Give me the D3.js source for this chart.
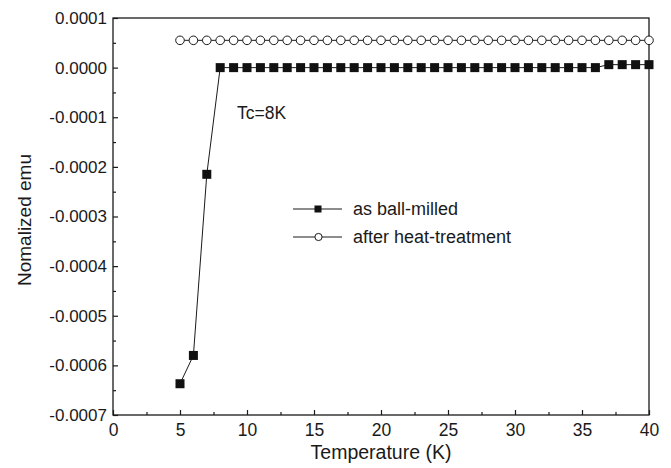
<!DOCTYPE html>
<html>
<head>
<meta charset="utf-8">
<script src="https://cdn.jsdelivr.net/npm/d3@7"></script>
<style>
  body { margin: 0; background: #fff; }
  svg { font-family: "Liberation Sans", Arial, sans-serif; }
</style>
</head>
<body>
<div id="chart"></div>
<script>
// data
var tempMilled = [5, 6, 7, 8, 9, 10, 11, 12, 13, 14, 15, 16, 17, 18, 19, 20, 21, 22, 23, 24,
    25, 26, 27, 28, 29, 30, 31, 32, 33, 34, 35, 36, 37, 38, 39, 40];
var emuMilled = [-0.000637, -0.00058, -0.000215, 0, 0, 0, 0, 0, 0, 0, 0, 0, 0, 0, 0, 0, 0, 0, 0, 0,
    0, 0, 0, 0, 0, 0, 0, 0, 0, 0, 0, 0, 0.000006, 0.000006, 0.000006, 0.000006];
var tempHeat = [5, 6, 7, 8, 9, 10, 11, 12, 13, 14, 15, 16, 17, 18, 19, 20, 21, 22, 23, 24,
    25, 26, 27, 28, 29, 30, 31, 32, 33, 34, 35, 36, 37, 38, 39, 40];
var emuHeat = [0.000055, 0.000055, 0.000055, 0.000055, 0.000055, 0.000055, 0.000055, 0.000055,
    0.000055, 0.000055, 0.000055, 0.000055, 0.000055, 0.000055, 0.000055, 0.000055, 0.000055,
    0.000055, 0.000055, 0.000055, 0.000055, 0.000055, 0.000055, 0.000055, 0.000055, 0.000055,
    0.000055, 0.000055, 0.000055, 0.000055, 0.000055, 0.000055, 0.000055, 0.000055, 0.000055, 0.000055];
var xTicks = [0, 5, 10, 15, 20, 25, 30, 35, 40];
var yTicks = [0.0001, 0, -0.0001, -0.0002, -0.0003, -0.0004, -0.0005, -0.0006, -0.0007];
var legendNames = ["as ball-milled", "after heat-treatment"];

var width = 671, height = 468;
var margin = {top: 18, right: 22, bottom: 53, left: 113};
var ink = "#1a1a1a";

var svg = d3.select("#chart").append("svg")
    .attr("width", width)
    .attr("height", height);

var x = d3.scaleLinear().domain([0, 40]).range([margin.left, width - margin.right]);
var y = d3.scaleLinear().domain([-0.0007, 0.0001]).range([height - margin.bottom, margin.top]);

// frame
svg.append("rect")
    .attr("x", x(0)).attr("y", y(0.0001))
    .attr("width", x(40) - x(0)).attr("height", y(-0.0007) - y(0.0001))
    .attr("fill", "none").attr("stroke", ink).attr("stroke-width", 1.3);

// bottom axis, ticks pointing in
var xMinor = d3.range(2.5, 40, 5);
svg.append("g")
    .attr("transform", "translate(0," + y(-0.0007) + ")")
    .call(d3.axisBottom(x).tickValues(xMinor).tickSize(-3).tickFormat(""))
    .call(function (g) { g.select(".domain").remove(); });
var gx = svg.append("g")
    .attr("transform", "translate(0," + y(-0.0007) + ")")
    .call(d3.axisBottom(x).tickValues(xTicks).tickSize(-5).tickPadding(9).tickFormat(d3.format("d")));
gx.select(".domain").remove();
gx.selectAll("text").attr("font-size", 17.5).attr("fill", ink).attr("font-family", "Liberation Sans, Arial, sans-serif");

// left axis
var yMinor = d3.range(-0.00065, 0.0001, 0.0001);
svg.append("g")
    .attr("transform", "translate(" + x(0) + ",0)")
    .call(d3.axisLeft(y).tickValues(yMinor).tickSize(-3).tickFormat(""))
    .call(function (g) { g.select(".domain").remove(); });
var gy = svg.append("g")
    .attr("transform", "translate(" + x(0) + ",0)")
    .call(d3.axisLeft(y).tickValues(yTicks).tickSize(-5).tickPadding(6).tickFormat(function (d) {
        if (Math.abs(d) < 1e-12) return "0.0000";
        return d3.format(".4f")(d).replace("\u2212", "-");
    }));
gy.select(".domain").remove();
gy.selectAll("text").attr("font-size", 17).attr("fill", ink).attr("font-family", "Liberation Sans, Arial, sans-serif");
svg.selectAll(".tick line").attr("stroke", ink).attr("stroke-width", 1.2);

// axis titles
svg.append("text")
    .attr("x", 381).attr("y", 459)
    .attr("text-anchor", "middle").attr("font-size", 19.5).attr("fill", ink)
    .text("Temperature (K)");
svg.append("text")
    .attr("transform", "translate(31,220) rotate(-90)")
    .attr("text-anchor", "middle").attr("font-size", 19).attr("fill", ink)
    .text("Nomalized emu");

// series
var milled = tempMilled.map(function (t, i) { return {t: t, v: emuMilled[i]}; });
var heat = tempHeat.map(function (t, i) { return {t: t, v: emuHeat[i]}; });
var line = d3.line().x(function (d) { return x(d.t); }).y(function (d) { return y(d.v); });

svg.append("path").datum(heat)
    .attr("d", line).attr("fill", "none").attr("stroke", ink).attr("stroke-width", 1);
svg.selectAll(".heat").data(heat).enter().append("circle")
    .attr("class", "heat")
    .attr("cx", function (d) { return x(d.t); })
    .attr("cy", function (d) { return y(d.v); })
    .attr("r", 4.3)
    .attr("fill", "#fff").attr("stroke", ink).attr("stroke-width", 1);

svg.append("path").datum(milled)
    .attr("d", line).attr("fill", "none").attr("stroke", ink).attr("stroke-width", 1);
svg.selectAll(".milled").data(milled).enter().append("rect")
    .attr("class", "milled")
    .attr("x", function (d) { return x(d.t) - 4.5; })
    .attr("y", function (d) { return y(d.v) - 4.5; })
    .attr("width", 9).attr("height", 9)
    .attr("fill", "#111");

// annotation
svg.append("text")
    .attr("x", 237).attr("y", 119)
    .attr("font-size", 17.5).attr("fill", ink)
    .text("Tc=8K");

// legend
var legend = svg.selectAll(".legend").data(legendNames).enter().append("g")
    .attr("class", "legend")
    .attr("transform", function (d, i) { return "translate(293," + (209 + i * 28) + ")"; });
legend.append("line")
    .attr("x1", 0).attr("x2", 49).attr("y1", 0).attr("y2", 0)
    .attr("stroke", ink).attr("stroke-width", 1);
legend.each(function (d, i) {
    var g = d3.select(this);
    if (i === 0) {
        g.append("rect").attr("x", 21.5).attr("y", -3.5).attr("width", 7).attr("height", 7).attr("fill", "#111");
    } else {
        g.append("circle").attr("cx", 25.5).attr("cy", 0).attr("r", 3.6)
            .attr("fill", "#fff").attr("stroke", ink);
    }
});
legend.append("text")
    .attr("x", 60).attr("y", 5.5)
    .attr("font-size", 18).attr("fill", ink)
    .text(function (d) { return d; });
</script>
</body>
</html>
